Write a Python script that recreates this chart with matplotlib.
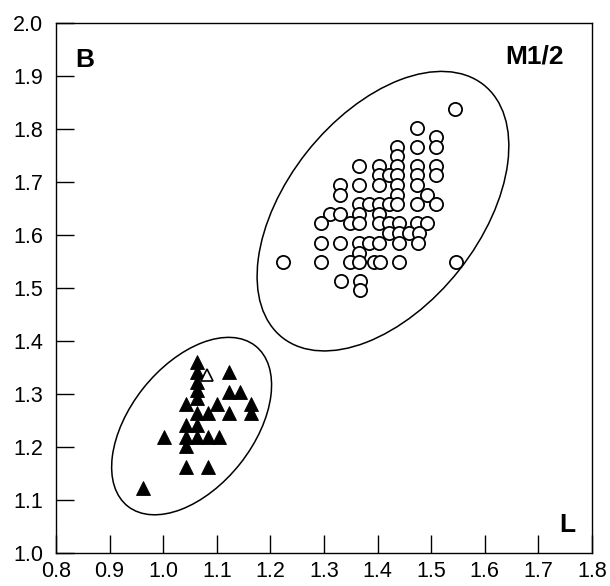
import matplotlib
matplotlib.use("Agg")
import matplotlib.pyplot as plt
from matplotlib.patches import Ellipse
import numpy as np

plt.rcParams['font.family'] = ['Liberation Sans', 'DejaVu Sans']

# M1/2 measurements, group 1 (open circles)
circle_L = [1.544, 1.473, 1.509, 1.509, 1.437, 1.473, 1.437,
            1.437, 1.366, 1.402, 1.473, 1.509,
            1.402, 1.421, 1.437, 1.473, 1.509,
            1.330, 1.330, 1.366, 1.402, 1.437, 1.473,
            1.437, 1.492,
            1.366, 1.384, 1.402, 1.421, 1.437, 1.473, 1.509,
            1.312, 1.330, 1.366, 1.402,
            1.295, 1.348, 1.366, 1.402, 1.421, 1.439, 1.474, 1.493,
            1.421, 1.439, 1.458, 1.477,
            1.295, 1.330, 1.366, 1.384, 1.402, 1.439, 1.475,
            1.366,
            1.224, 1.295, 1.348, 1.366, 1.393, 1.405, 1.439, 1.546,
            1.332, 1.368, 1.368]
circle_B = [1.838, 1.802, 1.785, 1.767, 1.767, 1.767, 1.749,
            1.730, 1.730, 1.730, 1.730, 1.730,
            1.713, 1.713, 1.713, 1.713, 1.713,
            1.694, 1.675, 1.694, 1.694, 1.694, 1.694,
            1.675, 1.675,
            1.658, 1.658, 1.658, 1.658, 1.658, 1.658, 1.658,
            1.640, 1.640, 1.640, 1.640,
            1.622, 1.622, 1.622, 1.622, 1.622, 1.622, 1.622, 1.622,
            1.604, 1.604, 1.604, 1.604,
            1.585, 1.585, 1.585, 1.585, 1.585, 1.585, 1.585,
            1.567,
            1.550, 1.550, 1.550, 1.550, 1.550, 1.550, 1.550, 1.550,
            1.514, 1.514, 1.496]

# group 2 (filled triangles)
tri_L = [1.063, 1.063, 1.063, 1.063, 1.063,
         1.122, 1.122, 1.144,
         1.043, 1.101, 1.163,
         1.063, 1.083, 1.122, 1.163,
         1.043, 1.063,
         1.002, 1.043, 1.063, 1.083, 1.104,
         1.043, 1.043, 1.083, 0.963]
tri_B = [1.361, 1.342, 1.323, 1.308, 1.292,
         1.342, 1.304, 1.304,
         1.282, 1.282, 1.282,
         1.264, 1.264, 1.264, 1.264,
         1.242, 1.242,
         1.219, 1.219, 1.219, 1.219, 1.219,
         1.201, 1.163, 1.163, 1.122]

# single open triangle
open_tri_L = [1.082]
open_tri_B = [1.336]

# ellipses: centre, width, height, angle
ell_big = (1.41, 1.645, 0.607, 0.361, 52)
ell_small = (1.053, 1.2395, 0.385, 0.230, 52)

x_ticks = np.round(np.arange(0.8, 1.81, 0.1), 1)
y_ticks = np.round(np.arange(1.0, 2.01, 0.1), 1)

fig = plt.figure(figsize=(6.10, 5.86), dpi=100)
ax = fig.add_axes([0.0918, 0.0563, 0.8787, 0.9044])

ax.plot(circle_L, circle_B, 'o', ms=9.5, mfc='white', mec='black', mew=1.3, ls='none')
ax.plot(tri_L, tri_B, '^', ms=10, mfc='black', mec='black', mew=0.6, ls='none')
ax.plot(open_tri_L, open_tri_B, '^', ms=9, mfc='white', mec='black', mew=1.2, ls='none')

for cx, cy, w, h, ang in [ell_big, ell_small]:
	ax.add_patch(Ellipse((cx, cy), w, h, angle=ang, fill=False, ec='black', lw=1.1))

ax.set_xlim(0.8, 1.8)
ax.set_ylim(1.0, 2.0)
ax.set_xticks(x_ticks)
ax.set_yticks(y_ticks)
ax.set_xticklabels(['%.1f' % v for v in x_ticks])
ax.set_yticklabels(['%.1f' % v for v in y_ticks])
ax.tick_params(axis='both', direction='in', length=13, width=1.0, labelsize=15.5)
ax.tick_params(axis='x', pad=6)
ax.tick_params(axis='y', pad=9)
for s in ax.spines.values():
	s.set_linewidth(1.0)

ax.text(0.854, 1.9175, 'B', fontsize=19, fontweight='bold', ha='center', va='baseline')
ax.text(1.692, 1.924, 'M1/2', fontsize=19, fontweight='bold', ha='center', va='baseline')
ax.text(1.753, 1.039, 'L', fontsize=19, fontweight='bold', ha='center', va='baseline')

fig.savefig('out.png', dpi=100)
